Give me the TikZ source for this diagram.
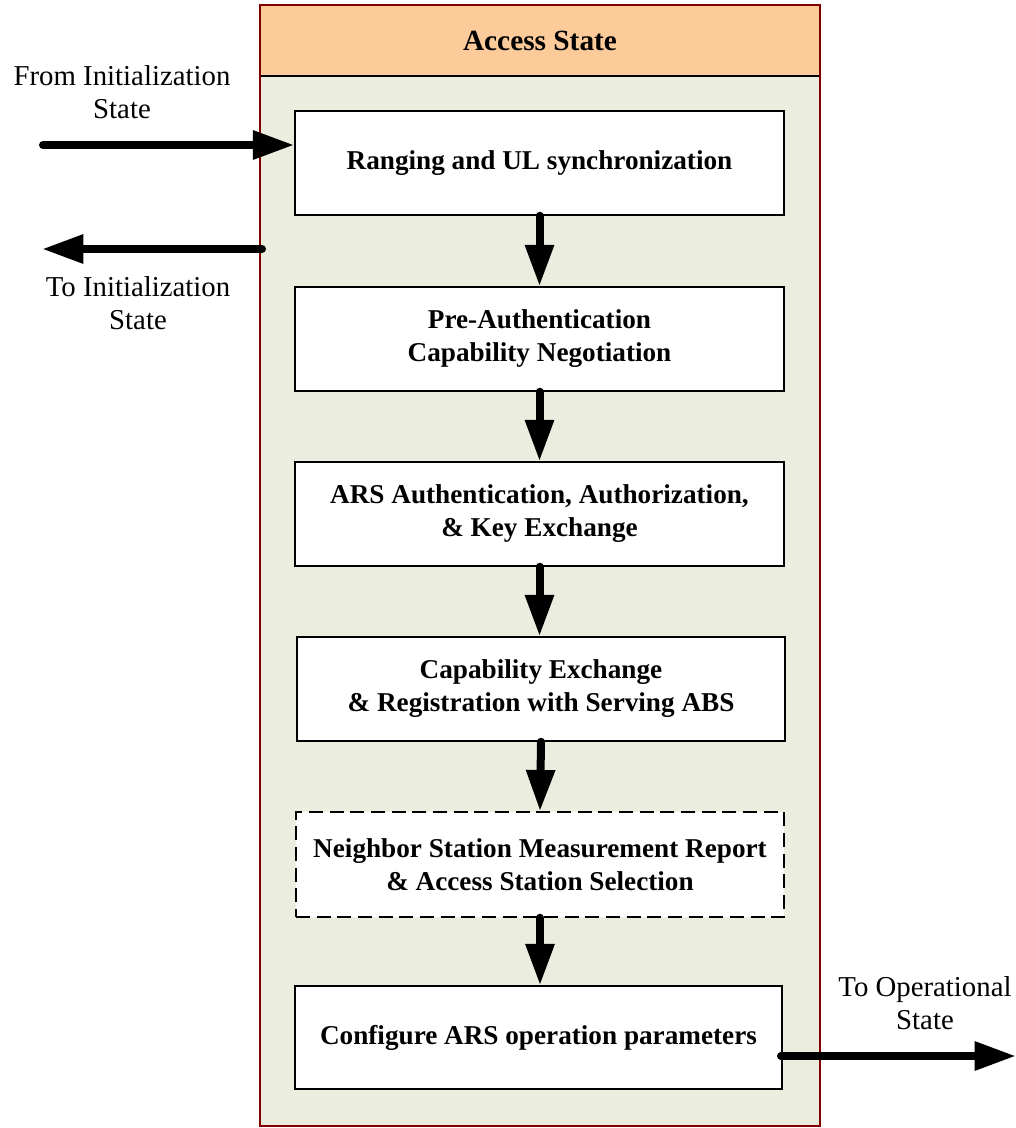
\documentclass[tikz,border=0pt]{standalone}
\usepackage{fontspec}
\setmainfont{Liberation Serif}
\usetikzlibrary{arrows.meta}
\definecolor{headfill}{RGB}{252,203,153}
\definecolor{bodyfill}{RGB}{235,238,222}
\definecolor{frame}{RGB}{128,0,0}
\def\px{0.75pt}
\begin{document}
\begin{tikzpicture}[x=0.75pt,y=-0.75pt,
  stepbox/.style={draw=black,line width=1.1pt,fill=white,align=center,
    font=\fontsize{20.4}{24.75}\selectfont\bfseries,inner sep=0pt},
  optbox/.style={stepbox,dash pattern=on 10.5pt off 5pt},
  flow/.style={line width=6pt,line cap=round,-{Triangle[length=31pt,width=20.5pt]}},
  lbl/.style={align=center,font=\fontsize{21.6}{25}\selectfont,inner sep=0pt}]
\useasboundingbox (0,0) rectangle (1016,1128);

% state container
\fill[bodyfill] (260,5) rectangle (820,1126);
\fill[headfill] (260,5) rectangle (820,76);
\draw[line width=0.9pt] (260,76) -- (820,76);
\draw[frame,line width=1.6pt] (260,5) rectangle (820,1126);
\node[font=\fontsize{22}{26}\selectfont\bfseries] (title) at (540,41) {Access State};

% procedure steps
\node[stepbox,minimum width=489*\px,minimum height=104*\px] (b1) at (539.5,163) {Ranging and UL synchronization};
\node[stepbox,minimum width=489*\px,minimum height=104*\px] (b2) at (539.5,339) {Pre-Authentication\\Capability Negotiation};
\node[stepbox,minimum width=489*\px,minimum height=104*\px] (b3) at (539.5,514) {ARS Authentication, Authorization,\\\& Key Exchange};
\node[stepbox,minimum width=488*\px,minimum height=104*\px] (b4) at (541,689) {Capability Exchange\\\& Registration with Serving ABS};
\node[optbox,minimum width=488*\px,minimum height=105*\px] (b5) at (540,864.5) {Neighbor Station Measurement Report\\\& Access Station Selection};
\node[stepbox,minimum width=487*\px,minimum height=103*\px] (b6) at (538.5,1037.5) {Configure ARS operation parameters};

% flow between steps
\draw[flow] (b1.south) -- (b2.north);
\draw[flow] (b2.south) -- (b3.north);
\draw[flow] (b3.south) -- (b4.north -| b3.south);
\draw[flow] (b4.south) -- (b5.north);
\draw[flow] (b5.south) -- (b6.north -| b5.south);

% transitions to and from other states
\coordinate (fromS) at (43,145);
\coordinate (toInitS) at (262,249);
\coordinate (toInitE) at (42,249);
\coordinate (toOpS) at (781,1056);
\coordinate (toOpE) at (1016,1056);
\draw[flow] (fromS) -- (fromS -| b1.west);
\draw[flow] (toInitS) -- (toInitE);
\draw[flow] (toOpS) -- (toOpE);

\node[lbl] (lfrom) at (122,92) {From Initialization\\State};
\node[lbl] (lto) at (138,303) {To Initialization\\State};
\node[lbl] (lop) at (925,1003) {To Operational\\State};
\end{tikzpicture}
\end{document}
